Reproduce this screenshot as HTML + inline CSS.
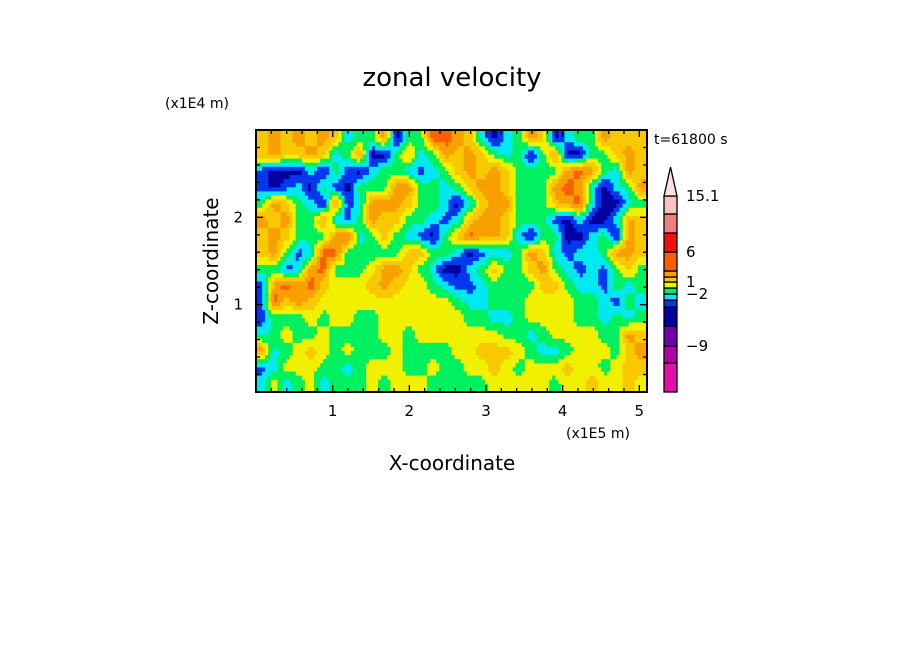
<!DOCTYPE html>
<html><head><meta charset="utf-8"><style>
html,body{margin:0;padding:0;background:#fff;}
svg text{font-family:"DejaVu Sans","Liberation Sans",sans-serif;fill:#000;}
</style></head><body>
<svg id="chart" width="904" height="654" viewBox="0 0 904 654" xmlns="http://www.w3.org/2000/svg">
<rect width="904" height="654" fill="#fff"/>
<text x="452" y="86" text-anchor="middle" font-size="26">zonal velocity</text>
<text x="165" y="108" font-size="14">(x1E4 m)</text>
<text x="654" y="144" font-size="14">t=61800 s</text>
<text x="566" y="438" font-size="14">(x1E5 m)</text>
<text x="452" y="470" text-anchor="middle" font-size="20">X-coordinate</text>
<text transform="translate(218,261) rotate(-90)" text-anchor="middle" font-size="20">Z-coordinate</text>
<g id="field"></g>
<g id="axes"></g>
<g id="cbar"></g>
</svg>
<script>
const NS="http://www.w3.org/2000/svg";
// field rows from top (z high) to bottom; hex digits index into palette
const fieldRows=[
"89898985669366aa9853569835669888",
"89889856933685698986563693366898",
"43335364356654568989866669a96598",
"4345364366699665689986669a953569",
"69865394599986653589966689a53356",
"98966954698866545899866643533598",
"8986669a568654368a99853663356398",
"89645aa6666688665345569854556998",
"66459a66679986533568668965454686",
"49a9a877789877654456666886554656",
"4a898777777777776556667777665465",
"46667677667777777665567777665656",
"56766766667767777777665677776698",
"95678767666766667788876556777689",
"45777665677766766778767778776788",
"57567566676777666667777767787787"
];
const palette=["#e010a8","#b000a8","#7000a8","#0000a0","#0038f0","#00e8f0","#00f060","#f0f000","#f8c800","#f8a000","#f86000","#f01010","#f08080","#f8c0c0"];
const xTicks=[1,2,3,4,5];
const zTicks=[1,2];
const cbLabels=[{v:"15.1",i:13},{v:"6",i:10},{v:"1",i:7},{v:"\u22122",i:5},{v:"\u22129",i:1}];
const PX0=256,PX1=647,PY0=130,PY1=392,XMAX=5.1,ZMAX=3.0;
const xs=v=>PX0+(v/XMAX)*(PX1-PX0);
const zs=v=>PY1-(v/ZMAX)*(PY1-PY0);
const field=document.getElementById('field');
const grid=fieldRows.map(r=>r.split('').map(ch=>parseInt(ch,16)));
const nr=grid.length,nc=grid[0].length;
const UP=4;
const fw=nc*UP,fh=nr*UP;
const cw=(PX1-PX0)/fw,ch=(PY1-PY0)/fh;
function sample(gx,gy){
  gx=Math.max(0,Math.min(nc-1,gx));gy=Math.max(0,Math.min(nr-1,gy));
  const x0=Math.floor(gx),y0=Math.floor(gy),x1=Math.min(nc-1,x0+1),y1=Math.min(nr-1,y0+1);
  const fx=gx-x0,fy=gy-y0;
  return grid[y0][x0]*(1-fx)*(1-fy)+grid[y0][x1]*fx*(1-fy)+grid[y1][x0]*(1-fx)*fy+grid[y1][x1]*fx*fy;
}
for(let r=0;r<fh;r++){
  for(let c=0;c<fw;c++){
    const v=sample((c+0.5)/UP-0.5,(r+0.5)/UP-0.5);
    const k=Math.max(0,Math.min(13,Math.round(v)));
    const el=document.createElementNS(NS,'rect');
    
    
    el.setAttribute('x',PX0+c*cw);el.setAttribute('y',PY0+r*ch);
    el.setAttribute('width',cw+0.5);el.setAttribute('height',ch+0.5);
    el.setAttribute('fill',palette[k]);
    field.appendChild(el);
  }
}
const axes=document.getElementById('axes');
function line(x1,y1,x2,y2,w,name){
  const l=document.createElementNS(NS,'line');
  
  
  l.setAttribute('x1',x1);l.setAttribute('y1',y1);l.setAttribute('x2',x2);l.setAttribute('y2',y2);
  l.setAttribute('stroke','#000');l.setAttribute('stroke-width',w);axes.appendChild(l);
}
const fr=document.createElementNS(NS,'rect');


fr.setAttribute('x',PX0);fr.setAttribute('y',PY0);fr.setAttribute('width',PX1-PX0);fr.setAttribute('height',PY1-PY0);
fr.setAttribute('fill','none');fr.setAttribute('stroke','#000');fr.setAttribute('stroke-width',2);axes.appendChild(fr);
for(let v=0.2;v<XMAX;v+=0.2){const x=xs(v);const major=Math.abs(v-Math.round(v))<0.01;const L=major?7:4;
  line(x,PY1,x,PY1-L,1.3,'x-tick');line(x,PY0,x,PY0+L,1.3,'x-tick-top');}
for(let v=0.2;v<ZMAX;v+=0.2){const y=zs(v);const major=Math.abs(v-Math.round(v))<0.01;const L=major?7:4;
  line(PX0,y,PX0+L,y,1.3,'z-tick');line(PX1,y,PX1-L,y,1.3,'z-tick-right');}
xTicks.forEach(v=>{const t=document.createElementNS(NS,'text');
  
  
  t.setAttribute('x',xs(v));t.setAttribute('y',416);t.setAttribute('text-anchor','middle');t.setAttribute('font-size','15');t.textContent=v;axes.appendChild(t);});
zTicks.forEach(v=>{const t=document.createElementNS(NS,'text');
  
  
  t.setAttribute('x',243);t.setAttribute('y',zs(v)+5);t.setAttribute('text-anchor','end');t.setAttribute('font-size','15');t.textContent=v;axes.appendChild(t);});
const cbar=document.getElementById('cbar');
const cbY=[392,363,346,326,307,300,294,288,282,277,271,252,233,214,196];
const CX=664,CW=13;
palette.forEach((col,i)=>{const r=document.createElementNS(NS,'rect');
  
  
  r.setAttribute('x',CX);r.setAttribute('y',cbY[i+1]);r.setAttribute('width',CW);r.setAttribute('height',cbY[i]-cbY[i+1]);
  r.setAttribute('fill',col);r.setAttribute('stroke','#000');r.setAttribute('stroke-width',1.3);cbar.appendChild(r);});
const tri=document.createElementNS(NS,'polygon');


tri.setAttribute('points',`${CX},196 ${CX+CW},196 ${CX+CW/2},167`);
tri.setAttribute('fill','#fce0dc');tri.setAttribute('stroke','#000');tri.setAttribute('stroke-width',1.3);cbar.appendChild(tri);
cbLabels.forEach(o=>{const t=document.createElementNS(NS,'text');
  
  
  const y=cbY[o.i+1];
  t.setAttribute('x',686);t.setAttribute('y',y+5);t.setAttribute('font-size','15');t.textContent=o.v;cbar.appendChild(t);});
</script>
</body></html>
